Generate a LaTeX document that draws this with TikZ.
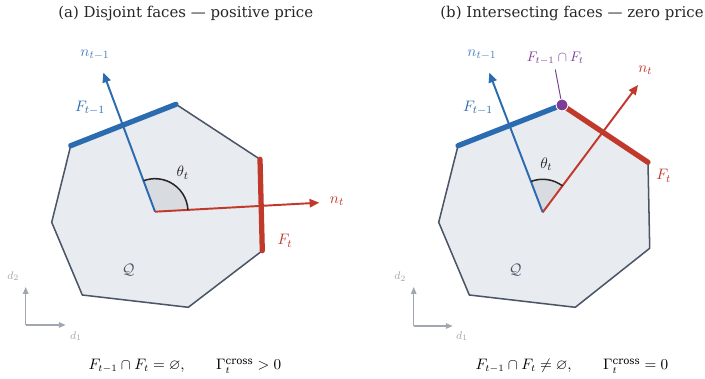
\documentclass[tikz,border=0pt]{standalone}
\usepackage{amsmath}
\usepackage{amssymb}
\usepackage{fontspec}
\setmainfont{DejaVu Serif}
\usepackage{xcolor}
\usepackage{tikz}
\usetikzlibrary{arrows.meta,calc}
\definecolor{facesblue}{HTML}{2B6CB0}
\definecolor{facesred}{HTML}{C0392B}
\definecolor{facespurple}{HTML}{7D3C98}
\definecolor{facesedge}{HTML}{4A5568}
\definecolor{facesfill}{HTML}{E8EBEF}
\definecolor{faceswedge}{HTML}{D8DBE0}
\definecolor{facesgrey}{HTML}{A0A7B0}

\begin{document}
\begin{tikzpicture}[x=0.254mm,y=0.254mm,
  body/.style={draw=facesedge,line width=1.1pt,fill=facesfill,line join=round},
  face/.style={line width=3.8pt,line cap=round},
  normal/.style={line width=1.4pt,-{Triangle[length=7pt,width=6pt]}},
  mlbl/.style={font=\fontsize{11}{13}\selectfont},
  title/.style={font=\fontsize{10.8}{13}\selectfont,text=black!85},
  formula/.style={font=\fontsize{10.5}{12.5}\selectfont},
  axis/.style={draw=facesgrey,line width=0.9pt,-{Triangle[length=5pt,width=4pt]}},
  axlbl/.style={text=facesgrey,font=\fontsize{8}{9}\selectfont},
  arcline/.style={draw=black!85,line width=1.1pt}
]
\useasboundingbox (0,0) rectangle (705,379);

% (a) disjoint faces
\node[title] (titleA) at (185.7,365.7) {(a) Disjoint faces — positive price};
\coordinate (a1) at (70.7,233.3);
\coordinate (a2) at (176,274.7);
\coordinate (a3) at (260,219.7);
\coordinate (a4) at (262.3,128.3);
\coordinate (a5) at (188.3,71.7);
\coordinate (a6) at (82.3,84);
\coordinate (a7) at (51.7,156.7);
\coordinate (cA) at (155,167.3);
\coordinate (nprevA) at (103.3,306.3);
\coordinate (ncurA) at (319.3,176.3);
\draw[body] (a1) -- (a2) -- (a3) -- (a4) -- (a5) -- (a6) -- (a7) -- cycle;
\fill[faceswedge] (cA) -- ++(3.1:33) arc[start angle=3.1,end angle=110.4,radius=33] -- cycle;
\draw[face,facesblue] (a1) -- (a2);
\draw[face,facesred] (a3) -- (a4);
\draw[normal,facesblue] (cA) -- (nprevA);
\draw[normal,facesred] (cA) -- (ncurA);
\draw[arcline] ($(cA)+(3.1:33)$) arc[start angle=3.1,end angle=110.4,radius=33];
\node[mlbl,text=facesblue!85] (lnprevA) at (95,324) {$n_{t-1}$};
\node[mlbl,text=facesred] (lncurA) at (337,177.5) {$n_t$};
\node[mlbl,text=facesblue] (lfprevA) at (90,271) {$F_{t-1}$};
\node[mlbl,text=facesred] (lfcurA) at (285,138.3) {$F_t$};
\node[mlbl,text=black!85] (lthetaA) at (182.7,206.3) {$\theta_t$};
\node[mlbl,text=facesedge] (lqA) at (128.3,109) {$\mathcal{Q}$};
\coordinate (oA) at (25.7,54);
\draw[axis] (oA) -- ++(0,38);
\draw[axis] (oA) -- ++(40,0);
\node[axlbl] (d2A) at (13.3,103) {$d_2$};
\node[axlbl] (d1A) at (76,43) {$d_1$};
\node[formula] (eqA) at (185,13) {$F_{t-1}\cap F_t=\varnothing,\qquad \Gamma_t^{\mathrm{cross}}>0$};

% (b) intersecting faces
\node[title] (titleB) at (572,365.7) {(b) Intersecting faces — zero price};
\coordinate (b1) at (458,233.3);
\coordinate (b2) at (562,274);
\coordinate (b3) at (648,216.7);
\coordinate (b4) at (649.7,130.7);
\coordinate (b5) at (575.3,71.7);
\coordinate (b6) at (469.3,84);
\coordinate (b7) at (438.7,156.7);
\coordinate (cB) at (542.7,166.7);
\coordinate (nprevB) at (489.3,306.3);
\coordinate (ncurB) at (638,294);
\draw[body] (b1) -- (b2) -- (b3) -- (b4) -- (b5) -- (b6) -- (b7) -- cycle;
\fill[faceswedge] (cB) -- ++(53.2:33) arc[start angle=53.2,end angle=110.9,radius=33] -- cycle;
\draw[face,facesblue] (b1) -- (b2);
\draw[face,facesred] (b2) -- (b3);
\draw[normal,facesblue] (cB) -- (nprevB);
\draw[normal,facesred] (cB) -- (ncurB);
\draw[arcline] ($(cB)+(53.2:33)$) arc[start angle=53.2,end angle=110.9,radius=33];
\node[mlbl,text=facesblue!85] (lnprevB) at (482,324) {$n_{t-1}$};
\node[mlbl,text=facesred] (lncurB) at (645.3,309) {$n_t$};
\node[mlbl,text=facesblue] (lfprevB) at (478,271) {$F_{t-1}$};
\node[mlbl,text=facesred] (lfcurB) at (663.7,203.3) {$F_t$};
\node[mlbl,text=black!85] (lthetaB) at (546.3,215) {$\theta_t$};
\node[mlbl,text=facesedge] (lqB) at (515.3,109) {$\mathcal{Q}$};
\node[text=facespurple,font=\fontsize{10}{12}\selectfont] (lcap) at (555.3,320.7) {$F_{t-1}\cap F_t$};
\draw[facespurple,line width=0.7pt] (lcap.south) -- (b2);
\node[circle,fill=facespurple,draw=white,line width=0.6pt,inner sep=0pt,minimum size=8.5pt] (dotB) at (b2) {};
\coordinate (oB) at (413.7,53);
\draw[axis] (oB) -- ++(0,39);
\draw[axis] (oB) -- ++(39,0);
\node[axlbl] (d2B) at (400.3,102.3) {$d_2$};
\node[axlbl] (d1B) at (462,43) {$d_1$};
\node[formula] (eqB) at (572,13) {$F_{t-1}\cap F_t\neq\varnothing,\qquad \Gamma_t^{\mathrm{cross}}=0$};
\end{tikzpicture}
\end{document}
